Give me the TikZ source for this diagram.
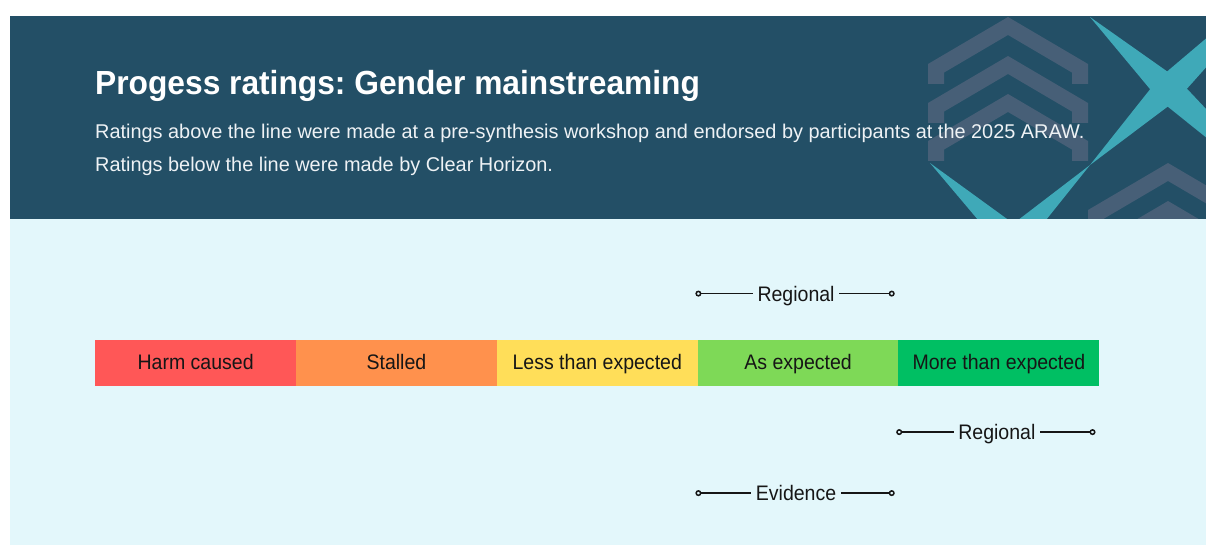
\documentclass[tikz,border=0pt]{standalone}
\usepackage{fontspec}
\setmainfont{Liberation Sans}
\newfontfamily\headfont{Liberation Sans}[FakeStretch=0.95]
\newfontfamily\labelfont{Liberation Sans}[FakeStretch=0.93]
\usepackage{tikz}
\usetikzlibrary{arrows.meta,positioning}
\frenchspacing

\definecolor{headerblue}{HTML}{234F66}
\definecolor{panelblue}{HTML}{E3F7FB}
\definecolor{chevrongrey}{HTML}{475F77}
\definecolor{crossteal}{HTML}{3FA9B8}
\definecolor{introwhite}{HTML}{EEF2F5}
\definecolor{harmred}{HTML}{FF5757}
\definecolor{stallorange}{HTML}{FF914D}
\definecolor{lessyellow}{HTML}{FFDE59}
\definecolor{asgreen}{HTML}{7ED957}
\definecolor{moregreen}{HTML}{00BF63}
\definecolor{inktext}{HTML}{161616}

\tikzset{
  heading/.style={inner sep=0pt, text=white, font=\headfont\fontsize{33.4}{38}\selectfont\bfseries},
  intro/.style={inner sep=0pt, text=introwhite, font=\fontsize{19.9}{24}\selectfont},
  rating/.style={rectangle, minimum width=200.9pt, minimum height=46pt, inner sep=0pt,
    text=inktext, font=\labelfont\fontsize{21}{25}\selectfont, text height=16pt, text depth=3pt},
  spanlabel/.style={inner sep=4.5pt, text=inktext, font=\labelfont\fontsize{21}{25}\selectfont,
    text height=15pt, text depth=0pt},
  spanline/.style={draw=inktext, line width=1.5pt, {Circle[open,length=6pt,width=6pt]}-},
  chevron/.pic={
    \fill[chevrongrey] (-80,47) -- (0,0) -- (80,47) -- (80,67) -- (64,67) -- (64,55.6)
      -- (0,18) -- (-64,55.6) -- (-64,67) -- (-80,67) -- cycle;
  }
}

\begin{document}
\begin{tikzpicture}[x=1pt, y=-1pt]
    % page and panels
    \fill[white] (0,0) rectangle (1206,545);
    \useasboundingbox (0,0) rectangle (1206,545);
    \fill[headerblue] (10,16) rectangle (1206,219);
    \fill[panelblue] (10,219) rectangle (1206,545);

    % header ornaments
    \begin{scope}
      \clip (10,16) rectangle (1206,219);
      \foreach \cy in {17,56,94} {\pic at (1008,\cy) {chevron};}
      \foreach \cy in {163,201} {\pic at (1168,\cy) {chevron};}
      \fill[crossteal] (1090,17) -- (1177.5,78.7) -- (1315,224.6) -- (1158.5,99.3) -- cycle;
      \fill[crossteal] (1090,165) -- (1158.2,79) -- (1311.2,-50.6) -- (1177.8,99) -- cycle;
      \fill[crossteal] (1090,165) -- (1030,240) -- (992,240) -- cycle;
      \fill[crossteal] (930,163) -- (1036,240) -- (995,240) -- cycle;
    \end{scope}

    % Nodes
    \node[heading, anchor=base west] (title) at (95,94.3) {Progess ratings: Gender mainstreaming};
    \node[intro, anchor=base west] (introA) at (95,139) {Ratings above the line were made at a pre-synthesis workshop and endorsed by participants at the 2025 ARAW.};
    \node[intro, anchor=base west] (introB) at (95,171.7) {Ratings below the line were made by Clear Horizon.};

    \node[rating, fill=harmred, anchor=west] (harm) at (95,363) {Harm caused};
    \node[rating, fill=stallorange, right=-0.5pt of harm] (stalled) {Stalled};
    \node[rating, fill=lessyellow, right=-0.5pt of stalled] (less) {Less than expected};
    \node[rating, fill=asgreen, right=-0.5pt of less] (asexp) {As expected};
    \node[rating, fill=moregreen, right=-0.5pt of asexp] (more) {More than expected};

    \node[spanlabel, above=34pt of asexp, xshift=-2pt] (regionalTop) {Regional};
    \node[spanlabel, below=33.7pt of more, xshift=-2pt] (regionalLow) {Regional};
    \node[spanlabel, below=94.7pt of asexp, xshift=-2pt] (evidence) {Evidence};

    \coordinate[xshift=-2pt] (regionalTopL) at (asexp.west |- regionalTop);
    \coordinate[xshift=-4pt] (regionalTopR) at (asexp.east |- regionalTop);
    \coordinate[xshift=-2pt] (regionalLowL) at (more.west |- regionalLow);
    \coordinate[xshift=-4pt] (regionalLowR) at (more.east |- regionalLow);
    \coordinate[xshift=-2pt] (evidenceL) at (asexp.west |- evidence);
    \coordinate[xshift=-4pt] (evidenceR) at (asexp.east |- evidence);

    % Edges
    \draw[spanline] (regionalTopL) -- (regionalTop);
    \draw[spanline] (regionalTopR) -- (regionalTop);
    \draw[spanline] (regionalLowL) -- (regionalLow);
    \draw[spanline] (regionalLowR) -- (regionalLow);
    \draw[spanline] (evidenceL) -- (evidence);
    \draw[spanline] (evidenceR) -- (evidence);
\end{tikzpicture}
\end{document}
